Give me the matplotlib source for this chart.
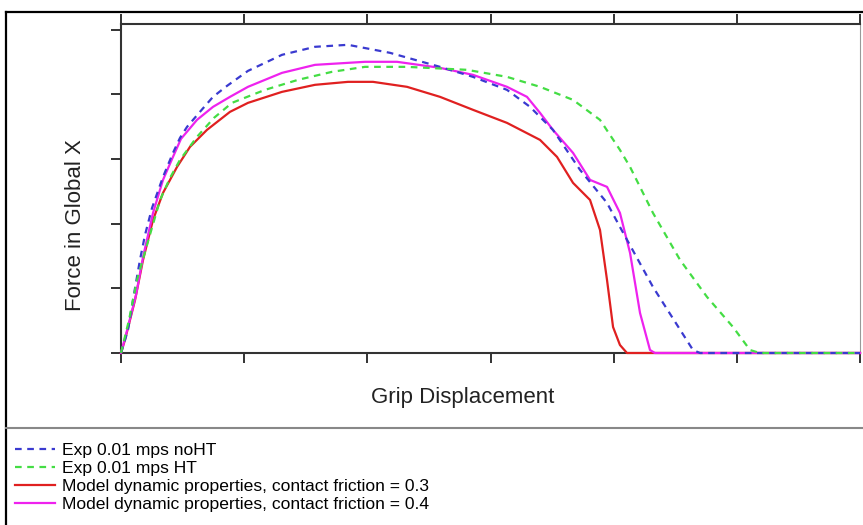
import matplotlib
matplotlib.use('Agg')
import matplotlib.pyplot as plt
from matplotlib.lines import Line2D

plt.rcParams['font.family'] = ['Liberation Sans', 'DejaVu Sans']

# curve values (x: grip displacement, y: force), axis units
exp_nohT_x = [0, 0.057, 0.097, 0.154, 0.195, 0.252, 0.341, 0.422, 0.479, 0.536, 0.641,
              0.747, 0.861, 1.031, 1.307, 1.575, 1.843, 2.184, 2.590, 2.858, 3.134,
              3.321, 3.507, 3.727, 3.946, 4.051, 4.319, 4.644, 4.701, 6.0]
exp_nohT_y = [0, 0.356, 0.820, 1.440, 1.827, 2.245, 2.724, 3.096, 3.328, 3.498, 3.731,
              3.963, 4.133, 4.365, 4.613, 4.737, 4.768, 4.644, 4.427, 4.272, 4.071,
              3.808, 3.452, 2.833, 2.322, 1.950, 1.022, 0.046, 0, 0]

exp_ht_x = [0, 0.065, 0.130, 0.211, 0.317, 0.398, 0.479, 0.617, 0.755, 0.901, 1.169,
            1.437, 1.713, 1.981, 2.322, 2.809, 3.134, 3.402, 3.670, 3.889, 4.051,
            4.133, 4.319, 4.539, 4.758, 4.969, 5.107, 5.188, 6.0]
exp_ht_y = [0, 0.511, 1.130, 1.672, 2.368, 2.709, 2.988, 3.344, 3.638, 3.870, 4.071,
            4.226, 4.350, 4.427, 4.427, 4.381, 4.272, 4.118, 3.916, 3.607, 3.142,
            2.879, 2.167, 1.440, 0.867, 0.402, 0.046, 0, 0]

model_03_x = [0, 0.032, 0.114, 0.179, 0.260, 0.341, 0.455, 0.560, 0.698, 0.885, 1.031,
              1.307, 1.575, 1.843, 2.046, 2.322, 2.590, 2.858, 3.134, 3.402, 3.540,
              3.670, 3.808, 3.889, 3.946, 3.995, 4.051, 4.108, 6.0]
model_03_y = [0, 0.201, 0.820, 1.440, 2.059, 2.477, 2.879, 3.189, 3.452, 3.731, 3.870,
              4.040, 4.149, 4.195, 4.195, 4.118, 3.963, 3.762, 3.560, 3.297, 3.034,
              2.632, 2.368, 1.904, 1.130, 0.402, 0.124, 0, 0]

model_04_x = [0, 0.040, 0.122, 0.179, 0.260, 0.341, 0.422, 0.487, 0.617, 0.747, 0.885,
              1.031, 1.307, 1.575, 1.981, 2.241, 2.590, 2.858, 3.134, 3.296, 3.402,
              3.507, 3.670, 3.808, 3.946, 4.051, 4.133, 4.214, 4.295, 4.335, 6.0]
model_04_y = [0, 0.280, 0.898, 1.486, 2.167, 2.678, 3.034, 3.313, 3.607, 3.808, 3.963,
              4.118, 4.334, 4.458, 4.505, 4.505, 4.412, 4.303, 4.118, 3.963, 3.715,
              3.452, 3.096, 2.678, 2.570, 2.167, 1.548, 0.619, 0.046, 0, 0]

labels = ['Exp 0.01 mps noHT', 'Exp 0.01 mps HT',
          'Model dynamic properties, contact friction = 0.3',
          'Model dynamic properties, contact friction = 0.4']

W, H = 863, 525
fig = plt.figure(figsize=(W / 100, H / 100), dpi=100)
ax = fig.add_axes([121 / W, 1 - 353 / H, (860 - 121) / W, (353 - 24) / H])

dash = (0, (3, 2.5))
l3, = ax.plot(model_03_x, model_03_y, color='#e02020', lw=1.6, zorder=3, clip_on=False)
l4, = ax.plot(model_04_x, model_04_y, color='#ee22ee', lw=1.6, zorder=3, clip_on=False)
l1, = ax.plot(exp_nohT_x, exp_nohT_y, color='#3a3ad0', lw=1.6, ls=dash, zorder=4, clip_on=False)
l2, = ax.plot(exp_ht_x, exp_ht_y, color='#44dd44', lw=1.6, ls=dash, zorder=4, clip_on=False)

ax.set_xlim(0, 6)
ax.set_ylim(0, 5.09)
ax.set_xticks(range(7))
ax.set_yticks(range(6))
ax.set_xticklabels([])
ax.set_yticklabels([])
ax.tick_params(direction='out', length=7, width=1.4, color='#333333',
               top=True, bottom=True, left=True, right=False)
for side in ['left', 'bottom', 'top']:
    ax.spines[side].set_linewidth(1.5)
    ax.spines[side].set_color('#333333')
ax.spines['right'].set_linewidth(0.8)
ax.spines['right'].set_color('#999999')

fig.text(463 / W, 1 - 397 / H, 'Grip Displacement', fontsize=16,
         ha='center', va='center', color='#222222')
fig.text(75 / W, 1 - 225 / H, 'Force in Global X', fontsize=16, rotation=90,
         ha='center', va='center', color='#222222')

# outer frame and legend separator
fig.add_artist(Line2D([6 / W, 6 / W], [0, 1 - 12 / H], transform=fig.transFigure,
                      color='black', lw=1.6))
fig.add_artist(Line2D([6 / W, 1], [1 - 12 / H, 1 - 12 / H], transform=fig.transFigure,
                      color='black', lw=1.6))
fig.add_artist(Line2D([6 / W, 1], [1 - 428 / H, 1 - 428 / H], transform=fig.transFigure,
                      color='#888888', lw=1.5))

fig.legend([l1, l2, l3, l4], labels, loc='upper left',
           bbox_to_anchor=(15 / W, 1 - 443 / H), frameon=False, fontsize=12.6,
           handlelength=2.3, handletextpad=0.4, labelspacing=0.15,
           borderpad=0, borderaxespad=0)

fig.savefig('out.png', dpi=100)
